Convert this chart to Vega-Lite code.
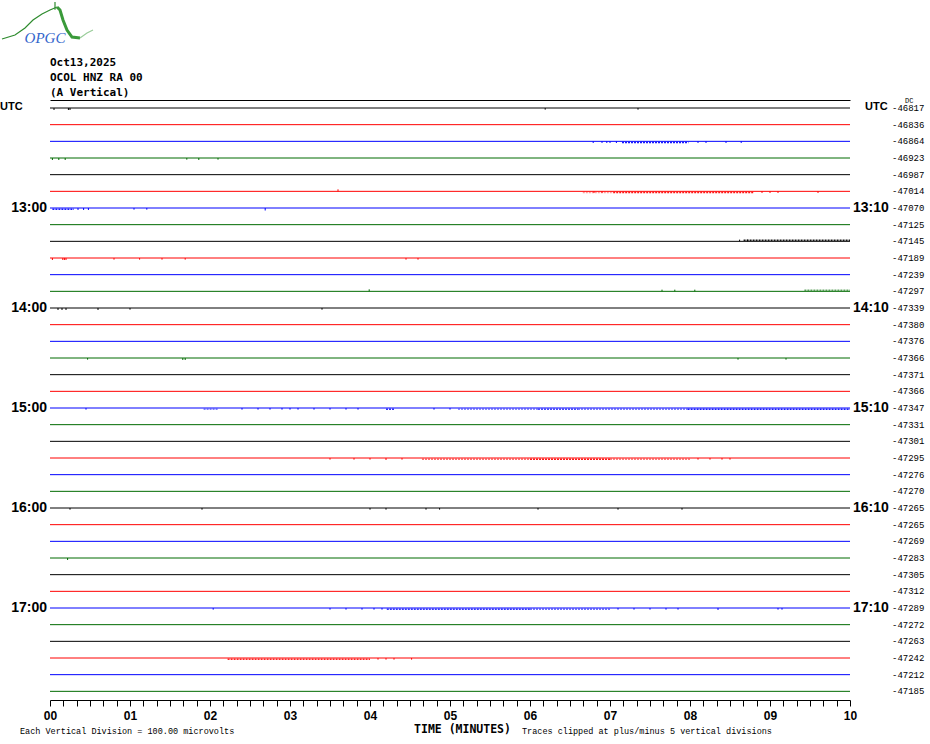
{
  "$schema": "https://vega.github.io/schema/vega-lite/v6.json",
  "width": 800,
  "height": 600,
  "autosize": "none",
  "padding": {"left": 50, "top": 100, "right": 80, "bottom": 44},
  "background": "white",
  "config": {"view": {"stroke": null}, "font": "Liberation Sans"},
  "datasets": {
    "grid": [{"t": 0}, {"t": 1}, {"t": 2}, {"t": 3}, {"t": 4}, {"t": 5}, {"t": 6}, {"t": 7}, {"t": 8}, {"t": 9}, {"t": 10}],
    "header": [
      {"t": 0, "r": -2.7, "txt": "Oct13,2025"},
      {"t": 0, "r": -1.8, "txt": "OCOL HNZ RA 00"},
      {"t": 0, "r": -0.9, "txt": "(A Vertical)"}
    ],
    "rows": [
      {"r": 0, "c": "k", "dc": "-46817"}, {"r": 1, "c": "r", "dc": "-46836"}, {"r": 2, "c": "b", "dc": "-46864"}, {"r": 3, "c": "g", "dc": "-46923"},
      {"r": 4, "c": "k", "dc": "-46987"}, {"r": 5, "c": "r", "dc": "-47014"}, {"r": 6, "c": "b", "dc": "-47070"}, {"r": 7, "c": "g", "dc": "-47125"},
      {"r": 8, "c": "k", "dc": "-47145"}, {"r": 9, "c": "r", "dc": "-47189"}, {"r": 10, "c": "b", "dc": "-47239"}, {"r": 11, "c": "g", "dc": "-47297"},
      {"r": 12, "c": "k", "dc": "-47339"}, {"r": 13, "c": "r", "dc": "-47380"}, {"r": 14, "c": "b", "dc": "-47376"}, {"r": 15, "c": "g", "dc": "-47366"},
      {"r": 16, "c": "k", "dc": "-47371"}, {"r": 17, "c": "r", "dc": "-47366"}, {"r": 18, "c": "b", "dc": "-47347"}, {"r": 19, "c": "g", "dc": "-47331"},
      {"r": 20, "c": "k", "dc": "-47301"}, {"r": 21, "c": "r", "dc": "-47295"}, {"r": 22, "c": "b", "dc": "-47276"}, {"r": 23, "c": "g", "dc": "-47270"},
      {"r": 24, "c": "k", "dc": "-47265"}, {"r": 25, "c": "r", "dc": "-47265"}, {"r": 26, "c": "b", "dc": "-47269"}, {"r": 27, "c": "g", "dc": "-47283"},
      {"r": 28, "c": "k", "dc": "-47305"}, {"r": 29, "c": "r", "dc": "-47312"}, {"r": 30, "c": "b", "dc": "-47289"}, {"r": 31, "c": "g", "dc": "-47272"},
      {"r": 32, "c": "k", "dc": "-47263"}, {"r": 33, "c": "r", "dc": "-47242"}, {"r": 34, "c": "b", "dc": "-47212"}, {"r": 35, "c": "g", "dc": "-47185"}
    ],
    "hours": [
      {"r": 6, "l": "13:00", "rt": "13:10"}, {"r": 12, "l": "14:00", "rt": "14:10"}, {"r": 18, "l": "15:00", "rt": "15:10"},
      {"r": 24, "l": "16:00", "rt": "16:10"}, {"r": 30, "l": "17:00", "rt": "17:10"}
    ],
    "bursts": [
      {"r": 2, "t1": 7.15, "t2": 7.98, "a": 0.07, "d": 0.9},
      {"r": 5, "t1": 7.04, "t2": 8.8, "a": 0.07, "d": 0.9},
      {"r": 5, "t1": 6.66, "t2": 7.04, "a": 0.07, "d": 0.4},
      {"r": 6, "t1": 0.03, "t2": 0.3, "a": 0.07, "d": 0.9},
      {"r": 8, "t1": 8.67, "t2": 10, "a": -0.07, "d": 0.9},
      {"r": 11, "t1": 9.43, "t2": 10, "a": -0.07, "d": 0.6},
      {"r": 18, "t1": 1.92, "t2": 2.1, "a": 0.07, "d": 0.5},
      {"r": 18, "t1": 4.2, "t2": 4.3, "a": 0.07, "d": 0.8},
      {"r": 18, "t1": 5.1, "t2": 6.1, "a": 0.07, "d": 0.45},
      {"r": 18, "t1": 6.1, "t2": 6.6, "a": 0.07, "d": 0.7},
      {"r": 18, "t1": 6.6, "t2": 7.97, "a": 0.07, "d": 0.5},
      {"r": 18, "t1": 7.97, "t2": 10, "a": 0.07, "d": 0.9},
      {"r": 21, "t1": 4.65, "t2": 6.0, "a": 0.07, "d": 0.55},
      {"r": 21, "t1": 6.0, "t2": 7.0, "a": 0.07, "d": 0.9},
      {"r": 21, "t1": 7.0, "t2": 8.0, "a": 0.07, "d": 0.5},
      {"r": 30, "t1": 4.21, "t2": 6.0, "a": 0.07, "d": 0.8},
      {"r": 30, "t1": 6.0, "t2": 7.0, "a": 0.07, "d": 0.55},
      {"r": 33, "t1": 2.22, "t2": 4.0, "a": 0.07, "d": 0.85}
    ],
    "spikes": [
      {"r": 0, "t": 0.05, "a": 0.12}, {"r": 0, "t": 0.23, "a": 0.12}, {"r": 0, "t": 0.25, "a": 0.12}, {"r": 0, "t": 6.19, "a": 0.1}, {"r": 0, "t": 7.35, "a": 0.1},
      {"r": 2, "t": 6.79, "a": 0.1}, {"r": 2, "t": 6.9, "a": 0.1}, {"r": 2, "t": 6.96, "a": 0.1}, {"r": 2, "t": 7.0, "a": 0.1}, {"r": 2, "t": 7.08, "a": 0.1},
      {"r": 2, "t": 8.1, "a": 0.1}, {"r": 2, "t": 8.2, "a": 0.1}, {"r": 2, "t": 8.45, "a": 0.1}, {"r": 2, "t": 8.64, "a": 0.1},
      {"r": 3, "t": 0.03, "a": 0.12}, {"r": 3, "t": 0.11, "a": 0.12}, {"r": 3, "t": 0.19, "a": 0.12}, {"r": 3, "t": 1.71, "a": 0.1}, {"r": 3, "t": 1.86, "a": 0.12}, {"r": 3, "t": 2.1, "a": 0.1},
      {"r": 5, "t": 3.6, "a": -0.12}, {"r": 5, "t": 6.8, "a": 0.1}, {"r": 5, "t": 6.9, "a": 0.1}, {"r": 5, "t": 8.9, "a": 0.1}, {"r": 5, "t": 9.0, "a": 0.1}, {"r": 5, "t": 9.1, "a": 0.1}, {"r": 5, "t": 9.6, "a": 0.1},
      {"r": 6, "t": 0.35, "a": 0.12}, {"r": 6, "t": 0.42, "a": 0.12}, {"r": 6, "t": 0.48, "a": 0.12}, {"r": 6, "t": 1.05, "a": 0.1}, {"r": 6, "t": 1.21, "a": 0.1}, {"r": 6, "t": 2.69, "a": 0.15},
      {"r": 8, "t": 8.62, "a": -0.1}, {"r": 8, "t": 8.72, "a": -0.1},
      {"r": 9, "t": 0.03, "a": 0.12}, {"r": 9, "t": 0.16, "a": 0.12}, {"r": 9, "t": 0.18, "a": 0.12}, {"r": 9, "t": 0.2, "a": 0.12}, {"r": 9, "t": 0.8, "a": 0.1},
      {"r": 9, "t": 1.12, "a": 0.1}, {"r": 9, "t": 1.4, "a": 0.1}, {"r": 9, "t": 1.69, "a": 0.1}, {"r": 9, "t": 4.45, "a": 0.1}, {"r": 9, "t": 4.6, "a": 0.1},
      {"r": 11, "t": 3.99, "a": -0.12}, {"r": 11, "t": 7.65, "a": -0.1}, {"r": 11, "t": 7.81, "a": -0.1}, {"r": 11, "t": 8.06, "a": -0.1},
      {"r": 12, "t": 0.1, "a": 0.12}, {"r": 12, "t": 0.15, "a": 0.12}, {"r": 12, "t": 0.2, "a": 0.12}, {"r": 12, "t": 0.6, "a": 0.12}, {"r": 12, "t": 1.0, "a": 0.1}, {"r": 12, "t": 3.4, "a": 0.1},
      {"r": 15, "t": 0.47, "a": 0.1}, {"r": 15, "t": 1.66, "a": 0.12}, {"r": 15, "t": 1.69, "a": 0.12}, {"r": 15, "t": 8.6, "a": 0.1}, {"r": 15, "t": 9.2, "a": 0.1},
      {"r": 18, "t": 0.45, "a": 0.1}, {"r": 18, "t": 2.4, "a": 0.1}, {"r": 18, "t": 2.6, "a": 0.1}, {"r": 18, "t": 2.75, "a": 0.1}, {"r": 18, "t": 2.9, "a": 0.1},
      {"r": 18, "t": 3.0, "a": 0.1}, {"r": 18, "t": 3.1, "a": 0.1}, {"r": 18, "t": 3.3, "a": 0.1}, {"r": 18, "t": 3.5, "a": 0.1}, {"r": 18, "t": 3.7, "a": 0.1},
      {"r": 18, "t": 3.85, "a": 0.1}, {"r": 18, "t": 4.8, "a": 0.1}, {"r": 18, "t": 5.0, "a": 0.1},
      {"r": 21, "t": 3.5, "a": 0.1}, {"r": 21, "t": 3.8, "a": 0.1}, {"r": 21, "t": 4.0, "a": 0.1}, {"r": 21, "t": 4.2, "a": 0.12}, {"r": 21, "t": 4.4, "a": 0.1},
      {"r": 21, "t": 8.1, "a": 0.1}, {"r": 21, "t": 8.25, "a": 0.1}, {"r": 21, "t": 8.4, "a": 0.1}, {"r": 21, "t": 8.5, "a": 0.1},
      {"r": 24, "t": 0.25, "a": 0.1}, {"r": 24, "t": 1.9, "a": 0.1}, {"r": 24, "t": 4.0, "a": 0.1}, {"r": 24, "t": 4.2, "a": 0.1}, {"r": 24, "t": 4.7, "a": 0.1},
      {"r": 24, "t": 4.87, "a": 0.1}, {"r": 24, "t": 6.1, "a": 0.1}, {"r": 24, "t": 7.1, "a": 0.1}, {"r": 24, "t": 7.9, "a": 0.1},
      {"r": 27, "t": 0.22, "a": 0.12},
      {"r": 30, "t": 2.04, "a": 0.1}, {"r": 30, "t": 3.5, "a": 0.1}, {"r": 30, "t": 3.7, "a": 0.1}, {"r": 30, "t": 3.9, "a": 0.1}, {"r": 30, "t": 4.05, "a": 0.1},
      {"r": 30, "t": 4.15, "a": 0.1}, {"r": 30, "t": 7.1, "a": 0.1}, {"r": 30, "t": 7.3, "a": 0.1}, {"r": 30, "t": 7.5, "a": 0.1}, {"r": 30, "t": 7.7, "a": 0.1},
      {"r": 30, "t": 7.85, "a": 0.1}, {"r": 30, "t": 8.35, "a": 0.12}, {"r": 30, "t": 9.1, "a": 0.1}, {"r": 30, "t": 9.15, "a": 0.1},
      {"r": 33, "t": 4.1, "a": 0.1}, {"r": 33, "t": 4.2, "a": 0.1}, {"r": 33, "t": 4.3, "a": 0.1}, {"r": 33, "t": 4.52, "a": 0.1}
    ],
    "logo": [
      {"t": -0.6, "r": -4.14, "p": "a"}, {"t": -0.4375, "r": -4.38, "p": "a"}, {"t": -0.3125, "r": -4.8, "p": "a"}, {"t": -0.2125, "r": -5.28, "p": "a"},
      {"t": -0.1, "r": -5.64, "p": "a"}, {"t": 0.0, "r": -5.88, "p": "a"}, {"t": 0.0875, "r": -6.06, "p": "a"},
      {"t": 0.0875, "r": -6.06, "p": "b"}, {"t": 0.125, "r": -5.88, "p": "b"}, {"t": 0.1625, "r": -5.28, "p": "b"}, {"t": 0.2125, "r": -4.68, "p": "b"},
      {"t": 0.275, "r": -4.26, "p": "b"}, {"t": 0.375, "r": -4.2, "p": "b"},
      {"t": 0.375, "r": -4.2, "p": "c"}, {"t": 0.4625, "r": -4.5, "p": "c"}, {"t": 0.5375, "r": -4.68, "p": "c"},
      {"t": 0.0625, "r": -6.36, "p": "s"}, {"t": 0.0625, "r": -5.9, "p": "s"}
    ],
    "notes": [
      {"t": -0.375, "r": 37.35, "txt": "Each Vertical Division =  100.00 microvolts"},
      {"t": 5.9, "r": 37.35, "txt": "Traces clipped at plus/minus 5 vertical divisions"}
    ]
  },
  "layer": [
    {
      "data": {"name": "grid"},
      "mark": {"type": "rule", "color": "#808080", "strokeWidth": 1},
      "encoding": {
        "x": {
          "field": "t", "type": "quantitative",
          "scale": {"domain": [0, 10], "nice": false, "zero": false},
          "axis": {
            "orient": "bottom",
            "values": [0, 0.1667, 0.3333, 0.5, 0.6667, 0.8333, 1, 1.1667, 1.3333, 1.5, 1.6667, 1.8333, 2, 2.1667, 2.3333, 2.5, 2.6667, 2.8333, 3, 3.1667, 3.3333, 3.5, 3.6667, 3.8333, 4, 4.1667, 4.3333, 4.5, 4.6667, 4.8333, 5, 5.1667, 5.3333, 5.5, 5.6667, 5.8333, 6, 6.1667, 6.3333, 6.5, 6.6667, 6.8333, 7, 7.1667, 7.3333, 7.5, 7.6667, 7.8333, 8, 8.1667, 8.3333, 8.5, 8.6667, 8.8333, 9, 9.1667, 9.3333, 9.5, 9.6667, 9.8333, 10],
            "labelExpr": "abs(datum.value - round(datum.value)) < 0.01 ? (round(datum.value) < 10 ? '0' : '') + round(datum.value) : ''",
            "labelOverlap": false,
            "labelFont": "Liberation Sans",
            "labelFontWeight": "bold",
            "labelFontSize": 12,
            "labelColor": "black",
            "labelPadding": 4,
            "labelFlush": false,
            "grid": false,
            "tickSize": 6,
            "tickColor": "black",
            "tickWidth": 1,
            "domainColor": "black",
            "domainWidth": 1,
            "title": "TIME (MINUTES)",
            "titleFont": "DejaVu Sans Mono",
            "titleFontWeight": "bold",
            "titleFontSize": 11.5,
            "titleColor": "black",
            "titleX": 412,
            "titleY": 29,
            "titleAlign": "center",
            "titleBaseline": "middle",
            "zindex": 1
          }
        },
        "y": {"datum": 0, "type": "quantitative", "scale": {"domain": [-0.48, 35.52], "reverse": true, "nice": false, "zero": false}, "axis": null}
      }
    },
    {
      "data": {"name": "rows"},
      "mark": {"type": "rule", "strokeWidth": 1},
      "encoding": {
        "x": {"datum": 0, "type": "quantitative", "axis": {"orient": "top", "labels": false, "ticks": false, "grid": false, "title": null, "domainColor": "black", "domainWidth": 1, "zindex": 1}},
        "x2": {"datum": 10},
        "y": {"field": "r", "type": "quantitative", "axis": null},
        "color": {"field": "c", "type": "nominal", "scale": {"domain": ["k", "r", "b", "g"], "range": ["#000000", "#ff0000", "#0000ff", "#006a00"]}, "legend": null}
      }
    },
    {
      "data": {"name": "bursts"},
      "transform": [
        {"lookup": "r", "from": {"data": {"name": "rows"}, "key": "r", "fields": ["c"]}},
        {"calculate": "datum.r + datum.a", "as": "e"}
      ],
      "mark": {"type": "rule", "strokeWidth": 1.5, "strokeDash": [2, 1]},
      "encoding": {
        "x": {"field": "t1", "type": "quantitative", "axis": null},
        "x2": {"field": "t2"},
        "y": {"field": "e", "type": "quantitative", "axis": null},
        "opacity": {"field": "d", "type": "quantitative", "scale": null},
        "color": {"field": "c", "type": "nominal", "legend": null}
      }
    },
    {
      "data": {"name": "spikes"},
      "transform": [
        {"lookup": "r", "from": {"data": {"name": "rows"}, "key": "r", "fields": ["c"]}},
        {"calculate": "datum.r + datum.a", "as": "e"}
      ],
      "mark": {"type": "rule", "strokeWidth": 1},
      "encoding": {
        "x": {"field": "t", "type": "quantitative", "axis": null},
        "y": {"field": "r", "type": "quantitative", "axis": null},
        "y2": {"field": "e"},
        "color": {"field": "c", "type": "nominal", "legend": null}
      }
    },
    {
      "data": {"name": "header"},
      "mark": {"type": "text", "align": "left", "baseline": "middle", "font": "DejaVu Sans Mono", "fontWeight": "bold", "fontSize": 11, "color": "black"},
      "encoding": {
        "x": {"field": "t", "type": "quantitative", "axis": null},
        "y": {"field": "r", "type": "quantitative", "axis": null},
        "text": {"field": "txt"}
      }
    },
    {
      "data": {"name": "hours"},
      "mark": {"type": "text", "align": "right", "baseline": "middle", "dx": -3, "font": "Liberation Sans", "fontWeight": "bold", "fontSize": 14, "color": "black"},
      "encoding": {
        "x": {"datum": 0, "type": "quantitative", "axis": null},
        "y": {"field": "r", "type": "quantitative", "axis": null},
        "text": {"field": "l"}
      }
    },
    {
      "data": {"name": "hours"},
      "mark": {"type": "text", "align": "left", "baseline": "middle", "dx": 3, "font": "Liberation Sans", "fontWeight": "bold", "fontSize": 14, "color": "black"},
      "encoding": {
        "x": {"datum": 10, "type": "quantitative", "axis": null},
        "y": {"field": "r", "type": "quantitative", "axis": null},
        "text": {"field": "rt"}
      }
    },
    {
      "data": {"values": [{"r": 0, "t": 0, "txt": "UTC"}]},
      "mark": {"type": "text", "align": "left", "baseline": "middle", "dx": -50, "dy": -1, "font": "Liberation Sans", "fontWeight": "bold", "fontSize": 11, "color": "black"},
      "encoding": {
        "x": {"field": "t", "type": "quantitative", "axis": null},
        "y": {"field": "r", "type": "quantitative", "axis": null},
        "text": {"field": "txt"}
      }
    },
    {
      "data": {"values": [{"r": 0, "t": 10, "txt": "UTC"}]},
      "mark": {"type": "text", "align": "left", "baseline": "middle", "dx": 15, "dy": -1, "font": "Liberation Sans", "fontWeight": "bold", "fontSize": 11, "color": "black"},
      "encoding": {
        "x": {"field": "t", "type": "quantitative", "axis": null},
        "y": {"field": "r", "type": "quantitative", "axis": null},
        "text": {"field": "txt"}
      }
    },
    {
      "data": {"name": "rows"},
      "mark": {"type": "text", "align": "left", "baseline": "middle", "dx": 42, "font": "Liberation Mono", "fontSize": 9, "color": "black"},
      "encoding": {
        "x": {"datum": 10, "type": "quantitative", "axis": null},
        "y": {"field": "r", "type": "quantitative", "axis": null},
        "text": {"field": "dc"}
      }
    },
    {
      "data": {"values": [{"r": 0, "t": 10, "txt": "DC"}]},
      "mark": {"type": "text", "align": "left", "baseline": "middle", "dx": 55, "dy": -7, "font": "Liberation Mono", "fontSize": 7, "color": "black"},
      "encoding": {
        "x": {"field": "t", "type": "quantitative", "axis": null},
        "y": {"field": "r", "type": "quantitative", "axis": null},
        "text": {"field": "txt"}
      }
    },
    {
      "data": {"name": "notes"},
      "mark": {"type": "text", "align": "left", "baseline": "middle", "font": "Liberation Mono", "fontSize": 8.5, "color": "black"},
      "encoding": {
        "x": {"field": "t", "type": "quantitative", "axis": null},
        "y": {"field": "r", "type": "quantitative", "axis": null},
        "text": {"field": "txt"}
      }
    },
    {
      "data": {"name": "logo"},
      "transform": [{"filter": "datum.p === 'a' || datum.p === 's'"}],
      "mark": {"type": "line", "color": "#2e8b2e", "strokeWidth": 1.2, "clip": false},
      "encoding": {
        "x": {"field": "t", "type": "quantitative", "axis": null},
        "y": {"field": "r", "type": "quantitative", "axis": null},
        "detail": {"field": "p"}
      }
    },
    {
      "data": {"name": "logo"},
      "transform": [{"filter": "datum.p === 'b'"}],
      "mark": {"type": "line", "color": "#3a9a3a", "strokeWidth": 3, "clip": false},
      "encoding": {
        "x": {"field": "t", "type": "quantitative", "axis": null},
        "y": {"field": "r", "type": "quantitative", "axis": null}
      }
    },
    {
      "data": {"name": "logo"},
      "transform": [{"filter": "datum.p === 'c'"}],
      "mark": {"type": "line", "color": "#9acd9a", "strokeWidth": 1.2, "clip": false},
      "encoding": {
        "x": {"field": "t", "type": "quantitative", "axis": null},
        "y": {"field": "r", "type": "quantitative", "axis": null}
      }
    },
    {
      "data": {"values": [{"t": -0.0625, "r": -4.2, "txt": "OPGC"}]},
      "mark": {"type": "text", "align": "center", "baseline": "middle", "font": "Liberation Serif", "fontStyle": "italic", "fontSize": 15, "color": "#3366cc"},
      "encoding": {
        "x": {"field": "t", "type": "quantitative", "axis": null},
        "y": {"field": "r", "type": "quantitative", "axis": null},
        "text": {"field": "txt"}
      }
    }
  ]
}
